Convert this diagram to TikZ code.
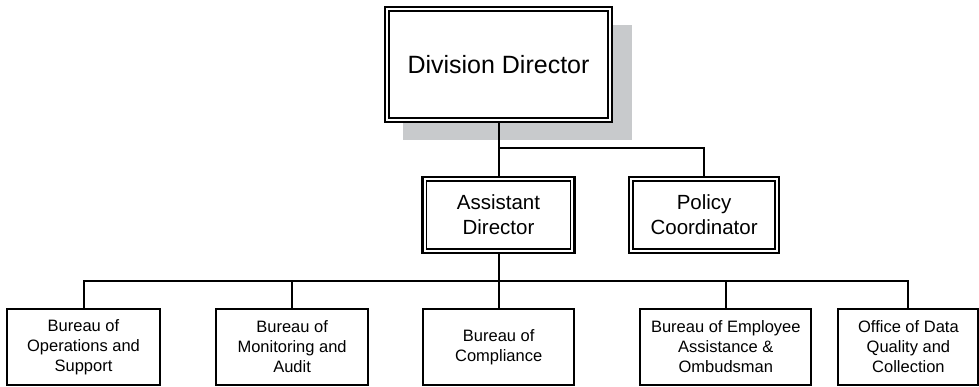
\documentclass[tikz,border=0pt]{standalone}
\usepackage{fontspec}
\setmainfont{Liberation Sans}
\usepackage{tikz}
\usetikzlibrary{positioning,calc}

\definecolor{shadowgray}{RGB}{200,202,204}

\begin{document}
\begin{tikzpicture}[x=1pt, y=1pt,
  dbox/.style={draw, line width=2.6pt, align=center, inner sep=0pt, fill=white,
    path picture={\draw[line width=1.3pt]
      ([shift={(4pt,4pt)}]path picture bounding box.south west) rectangle
      ([shift={(-4pt,-4pt)}]path picture bounding box.north east);}},
  unit/.style={draw, line width=2.1pt, align=center, inner sep=0pt, minimum height=76pt,
    font=\fontsize{16.5}{20}\selectfont},
  conn/.style={line width=2pt}]
\useasboundingbox (0,0) rectangle (979,386);
% top of the chart
\fill[shadowgray] (403,246) rectangle (632,361);
\node[dbox, minimum width=227pt, minimum height=115pt,
  font=\fontsize{25}{30}\selectfont] (dd) at (498.5,321.5) {Division Director};
\node[dbox, minimum width=152pt, minimum height=76pt,
  font=\fontsize{20.5}{25}\selectfont] (ad) at (498.5,171) {Assistant\\Director};
\node[dbox, minimum width=150pt, minimum height=76pt,
  font=\fontsize{20.5}{25}\selectfont, right=52pt of ad] (pc) {Policy\\Coordinator};
% bureaus
\node[unit, minimum width=153pt] (b1) at (83.5,39) {Bureau of\\Operations and\\Support};
\node[unit, minimum width=152pt, right=54pt of b1] (b2) {Bureau of\\Monitoring and\\Audit};
\node[unit, minimum width=151pt, right=53pt of b2] (b3) {Bureau of\\Compliance};
\node[unit, minimum width=171pt, right=64pt of b3] (b4) {Bureau of Employee\\Assistance \&\\Ombudsman};
\node[unit, minimum width=140pt, right=25pt of b4] (b5) {Office of Data\\Quality and\\Collection};
% connectors
\draw[conn] (dd.south) -- (ad.north);
\draw[conn] (ad.north) -- ++(0,28) -| (pc.north);
\draw[conn] (ad.south) -- (ad.south |- b3.north);
\foreach \u in {b1,b2,b4,b5}
  \draw[conn] (\u.north) -- ++(0,27) -| (ad.south);
\end{tikzpicture}
\end{document}
